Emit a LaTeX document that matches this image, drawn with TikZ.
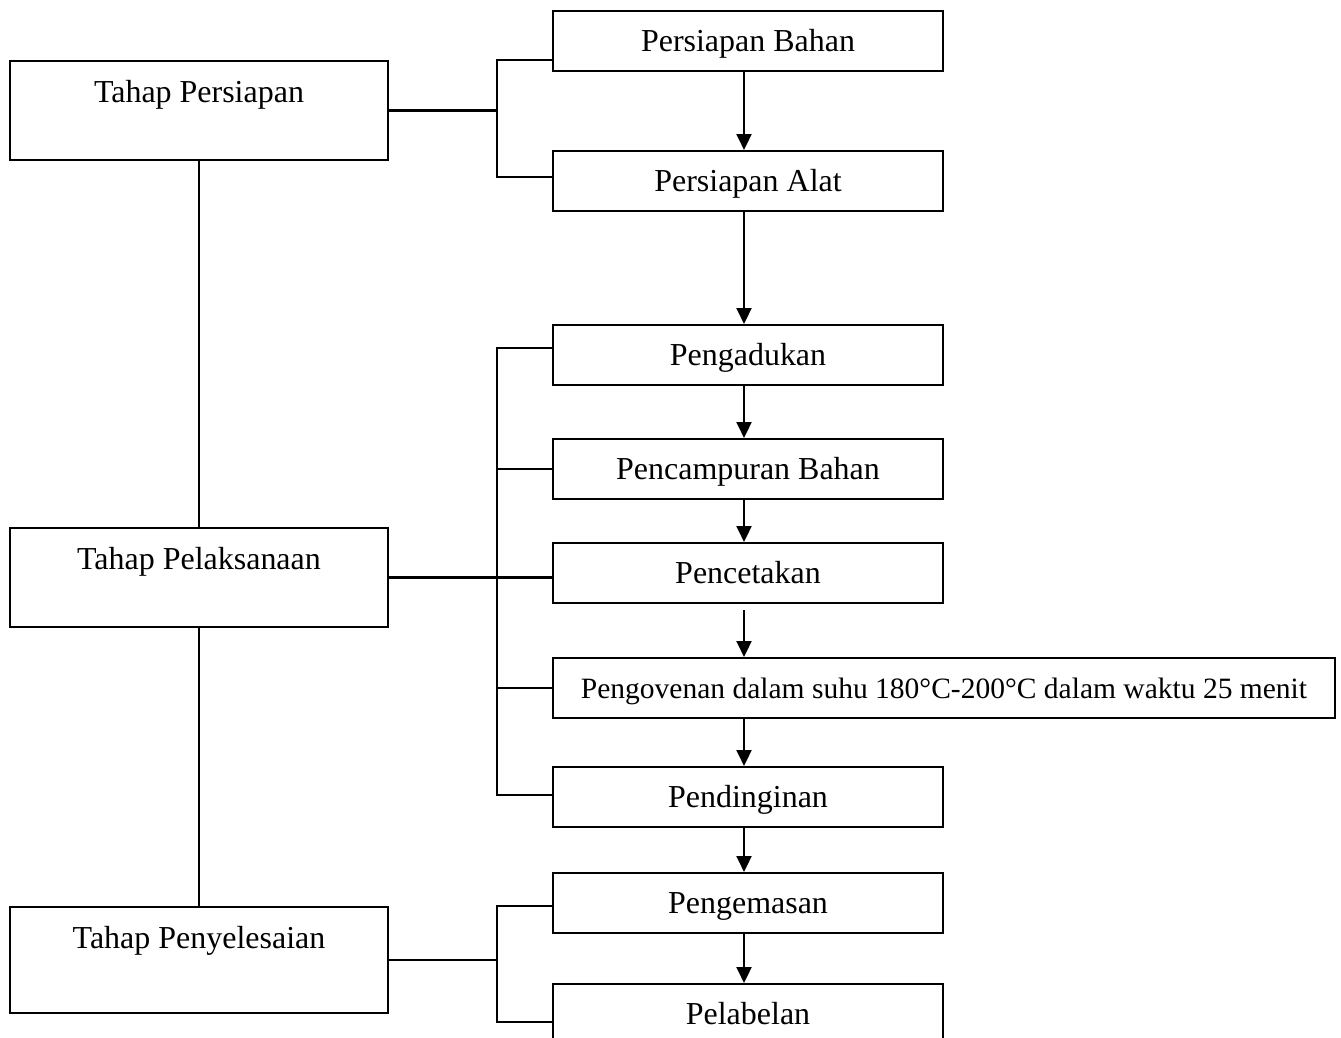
\documentclass[tikz,border=0pt]{standalone}
\usepackage{fontspec}
\setmainfont{Liberation Serif}
\usetikzlibrary{arrows.meta}

\tikzset{
  tahap/.style={draw, line width=1.2pt, minimum width=7.56cm, inner ysep=0pt,
    text height=0.82cm, text depth=1.16cm, font=\fontsize{18.2}{22}\selectfont, anchor=north},
  proses/.style={draw, line width=1.2pt, minimum width=7.8cm, minimum height=1.2cm, inner ysep=0pt,
    text height=0.5cm, text depth=0.08cm, font=\fontsize{18.2}{22}\selectfont, anchor=north west},
  garis/.style={line width=1.2pt},
  panah/.style={line width=1.2pt, -{Triangle[length=0.32cm,width=0.3cm]}}
}

\begin{document}
\begin{tikzpicture}[x=0.02cm, y=-0.02cm]
      \useasboundingbox (0,0) rectangle (1341,1037);
      \clip (0,0) rectangle (1341,1037);
      \node[tahap] (tp) at (199,60) {Tahap Persiapan};
      \node[tahap] (tl) at (199,527) {Tahap Pelaksanaan};
      \node[tahap, text depth=1.3cm] (ty) at (199,906) {Tahap Penyelesaian};
      \node[proses] (pb) at (552,10) {Persiapan Bahan};
      \node[proses] (pa) at (552,150) {Persiapan Alat};
      \node[proses] (pd) at (552,324) {Pengadukan};
      \node[proses] (pm) at (552,438) {Pencampuran Bahan};
      \node[proses] (pc) at (552,542) {Pencetakan};
      \node[proses, minimum width=15.64cm, font=\fontsize{16.8}{20}\selectfont] (po) at (552,657)
        {Pengovenan dalam suhu 180°C-200°C dalam waktu 25 menit};
      \node[proses] (pn) at (552,766) {Pendinginan};
      \node[proses] (pk) at (552,872) {Pengemasan};
      \node[proses] (pl) at (552,983) {Pelabelan};
      \draw[garis] (tp) -- (tl);
      \draw[garis] (tl) -- (ty);
      % cabang
      \coordinate (c1) at (497,60);
      \coordinate (c2) at (497,177);
      \draw[garis] (tp.east) -- (tp.east -| c1);
      \draw[garis] (c1 -| pb.west) -- (c1) -- (c2) -- (c2 -| pa.west);
      \coordinate (c3) at (497,348);
      \coordinate (c4) at (497,795);
      \draw[garis] (tl.east) -- (tl.east -| pc.west);
      \draw[garis] (c3 -| pd.west) -- (c3) -- (c4) -- (c4 -| pn.west);
      \foreach \n in {pm,po}
        \draw[garis] (\n.west) -- (\n.west -| c3);
      \coordinate (c5) at (497,906);
      \coordinate (c6) at (497,1022);
      \draw[garis] (ty.east) -- (ty.east -| c5);
      \draw[garis] (c5 -| pk.west) -- (c5) -- (c6) -- (c6 -| pl.west);
      % alur
      \foreach \a/\b in {pb/pa,pa/pd,pd/pm,pm/pc,pn/pk,pk/pl}
        \draw[panah] ([xshift=-0.08cm]\a.south) -- ([xshift=-0.08cm]\b.north);
      \draw[panah] ([xshift=-0.08cm,yshift=-0.12cm]pc.south) -- ([xshift=-0.08cm]pc.south |- po.north);
      \draw[panah] ([xshift=-0.08cm]po.south -| pc.south) -- ([xshift=-0.08cm]pn.north);
    \end{tikzpicture}
\end{document}
